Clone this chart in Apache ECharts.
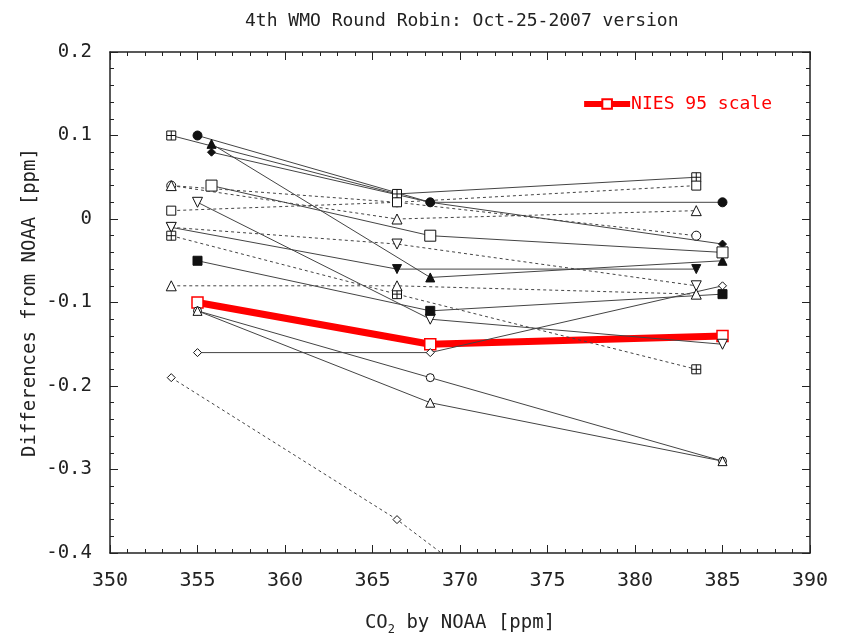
<!DOCTYPE html>
<html>
<head>
<meta charset="utf-8">
<script src="https://cdn.jsdelivr.net/npm/echarts@6/dist/echarts.min.js"></script>
<style>
  html, body { margin: 0; padding: 0; background: #fff; }
  #chart { width: 843px; height: 643px; }
</style>
</head>
<body>
<div id="chart"></div>
<script>
// NOAA values of the cylinders (x), three groups of labs
const xLow = [353.5, 366.4, 383.5];
const xMid = [355.0, 368.3, 385.0];
const xMid2 = [355.8, 368.3, 385.0];

// differences from NOAA (y)
const niesVals = [-0.10, -0.15, -0.14];
const circleFilledVals = [0.10, 0.02, 0.02];
const triDownOpenVals = [0.02, -0.12, -0.15];
const squareFilledVals = [-0.05, -0.11, -0.09];
const circleOpenVals = [-0.11, -0.19, -0.29];
const triOpenVals = [-0.11, -0.22, -0.29];
const diamondOpenVals = [-0.16, -0.16, -0.08];
const triFilledVals = [0.09, -0.07, -0.05];
const diamondFilledVals = [0.08, 0.02, -0.03];
const squareOpenVals = [0.04, -0.02, -0.04];
const crossVals = [0.10, 0.03, 0.05];
const triDownFilledVals = [-0.01, -0.06, -0.06];
const circleDotVals = [0.04, 0.02, -0.02];
const triDotVals = [0.04, 0.00, 0.01];
const squareDotVals = [0.01, 0.02, 0.04];
const triDownDotVals = [-0.01, -0.03, -0.08];
const crossDotVals = [-0.02, -0.09, -0.18];
const triDot2Vals = [-0.08, -0.08, -0.09];
const diamondDotVals = [-0.19, -0.36, -0.63];

const xTicks = [350, 355, 360, 365, 370, 375, 380, 385, 390];
const yTicks = [-0.4, -0.3, -0.2, -0.1, 0, 0.1, 0.2];

const cross = 'path://M0,0L10,0L10,10L0,10Z M5,0L5,10 M0,5L10,5';
const mono = 'DejaVu Sans Mono';

// marker and line look of each lab
const labs = [
  {xs: xMid, ys: circleFilledVals, sym: 'circle', fill: true, size: 9},
  {xs: xMid2, ys: triFilledVals, sym: 'triangle', fill: true, size: 9},
  {xs: xMid2, ys: diamondFilledVals, sym: 'diamond', fill: true, size: 8},
  {xs: xMid2, ys: squareOpenVals, sym: 'rect', fill: false, size: 11},
  {xs: xLow, ys: crossVals, sym: cross, fill: false, size: 9},
  {xs: xLow, ys: triDownFilledVals, sym: 'triangle', rot: 180, fill: true, size: 9},
  {xs: xMid, ys: triDownOpenVals, sym: 'triangle', rot: 180, fill: false, size: 10},
  {xs: xMid, ys: squareFilledVals, sym: 'rect', fill: true, size: 9},
  {xs: xMid, ys: circleOpenVals, sym: 'circle', fill: false, size: 8},
  {xs: xMid, ys: triOpenVals, sym: 'triangle', fill: false, size: 9},
  {xs: xMid, ys: diamondOpenVals, sym: 'diamond', fill: false, size: 8},
  {xs: xLow, ys: circleDotVals, sym: 'circle', fill: false, size: 9, dot: true},
  {xs: xLow, ys: triDotVals, sym: 'triangle', fill: false, size: 10, dot: true},
  {xs: xLow, ys: squareDotVals, sym: 'rect', fill: false, size: 9, dot: true},
  {xs: xLow, ys: triDownDotVals, sym: 'triangle', rot: 180, fill: false, size: 10, dot: true},
  {xs: xLow, ys: crossDotVals, sym: cross, fill: false, size: 9, dot: true},
  {xs: xLow, ys: triDot2Vals, sym: 'triangle', fill: false, size: 10, dot: true},
  {xs: xLow, ys: diamondDotVals, sym: 'diamond', fill: false, size: 8, dot: true},
];

const pair = (xs, ys) => xs.map((x, i) => [x, ys[i]]);

const series = labs.map((l, i) => ({
  name: 'lab' + i,
  type: 'line',
  data: pair(l.xs, l.ys),
  symbol: l.sym,
  symbolSize: l.size,
  symbolRotate: l.rot || 0,
  showAllSymbol: true,
  clip: true,
  lineStyle: {color: '#444', width: 1, type: l.dot ? [3, 3] : 'solid'},
  itemStyle: {color: l.fill ? '#111' : '#fff', borderColor: '#111', borderWidth: 1},
  z: 3
}));

series.splice(8, 0, {
  name: 'NIES 95 scale',
  type: 'line',
  data: pair(xMid, niesVals),
  symbol: 'rect',
  symbolSize: 11,
  lineStyle: {color: '#ff0000', width: 7},
  itemStyle: {color: '#fff', borderColor: '#ff0000', borderWidth: 1.5},
  z: 2
});

const tickAxis = {
  axisLine: {show: true, onZero: false, lineStyle: {color: '#222', width: 1.5}},
  axisTick: {show: true, inside: true, length: 8, lineStyle: {color: '#222'}},
  minorTick: {show: true, splitNumber: 5, length: 4, lineStyle: {color: '#222'}},
  splitLine: {show: false}
};

const chart = echarts.init(document.getElementById('chart'));
chart.setOption({
  backgroundColor: '#fff',
  title: {
    text: '4th WMO Round Robin: Oct-25-2007 version',
    left: 240,
    top: 7,
    textStyle: {fontFamily: mono, fontSize: 18, fontWeight: 'normal', color: '#222'}
  },
  legend: {
    data: ['NIES 95 scale'],
    right: 66,
    top: 90,
    itemWidth: 46,
    itemHeight: 12,
    lineStyle: {width: 6, color: '#ff0000'},
    textStyle: {fontFamily: mono, fontSize: 18, color: '#ff0000', padding: [0, 0, 0, -4]}
  },
  grid: {left: 110, right: 33, top: 52, bottom: 90, containLabel: false, outerBoundsMode: 'none'},
  xAxis: [
    Object.assign({
      type: 'value', min: xTicks[0], max: xTicks[xTicks.length - 1], interval: 5,
      position: 'bottom',
      name: 'CO{sub|2} by NOAA [ppm]',
      nameLocation: 'middle',
      nameGap: 57,
      nameMoveOverlap: false,
      nameTextStyle: {
        fontFamily: mono, fontSize: 19, color: '#222',
        rich: {sub: {fontFamily: mono, fontSize: 12, color: '#222', padding: [14, 0, 0, 0]}}
      },
      axisLabel: {fontFamily: mono, fontSize: 20, color: '#222', margin: 18}
    }, tickAxis),
    Object.assign({
      type: 'value', min: xTicks[0], max: xTicks[xTicks.length - 1], interval: 5,
      position: 'top', axisLabel: {show: false}
    }, tickAxis)
  ],
  yAxis: [
    Object.assign({
      type: 'value', min: yTicks[0], max: yTicks[yTicks.length - 1], interval: 0.1,
      position: 'left',
      name: 'Differences from NOAA [ppm]',
      nameLocation: 'middle',
      nameGap: 70,
      nameMoveOverlap: false,
      nameTextStyle: {fontFamily: mono, fontSize: 19, color: '#222'},
      axisLabel: {
        fontFamily: mono, fontSize: 19, color: '#222', margin: 18,
        formatter: v => Math.abs(v) < 1e-9 ? '0' : v.toFixed(1)
      }
    }, tickAxis),
    Object.assign({
      type: 'value', min: yTicks[0], max: yTicks[yTicks.length - 1], interval: 0.1,
      position: 'right', axisLabel: {show: false}
    }, tickAxis)
  ],
  series: series
});
</script>
</body>
</html>
